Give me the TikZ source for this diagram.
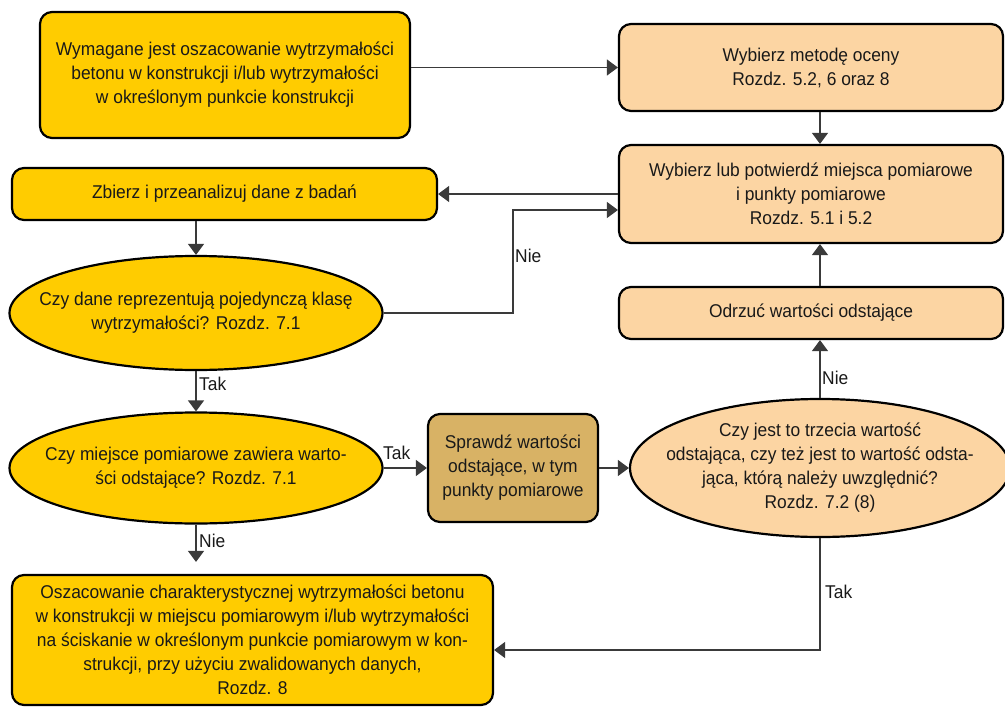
\documentclass[tikz,border=0pt]{standalone}
\usepackage{fontspec}
\setmainfont{Liberation Sans}[FakeStretch=0.94]
\usetikzlibrary{shapes.geometric,arrows.meta}
\definecolor{yel}{HTML}{FFCC00}
\definecolor{peach}{HTML}{FCD5A3}
\definecolor{tanbox}{HTML}{D8B265}
\definecolor{ln}{HTML}{3A3A3A}
\begin{document}
\begin{tikzpicture}[x=1pt,y=-1pt,
  txt/.style={font=\fontsize{18.5}{24}\selectfont,text=black!90},
  box/.style={txt,draw=black,line width=2.2pt,rounded corners=12pt,inner sep=0pt,align=center},
  ell/.style={draw=black,line width=2.2pt,ellipse,inner sep=0pt},
  ctext/.style={label={[txt,align=center]center:#1}},
  arr/.style={draw=ln,line width=1.3pt,-{Triangle[width=16pt,length=11pt]}},
  lab/.style={txt,inner sep=1pt,anchor=west}]
\useasboundingbox (0,0) rectangle (1005,707);
\node[box,fill=yel,minimum width=370,minimum height=126] (a) at (225,75)
  {Wymagane jest oszacowanie wytrzymałości\\betonu w konstrukcji i/lub wytrzymałości\\w określonym punkcie konstrukcji};
\node[box,fill=yel,minimum width=425,minimum height=52] (b) at (224.5,194)
  {Zbierz i przeanalizuj dane z badań};
\node[box,fill=peach,minimum width=384,minimum height=87] (c) at (811,67.5)
  {Wybierz metodę oceny\\Rozdz. 5.2, 6 oraz 8};
\node[box,fill=peach,minimum width=384,minimum height=98] (d) at (811,194)
  {Wybierz lub potwierdź miejsca pomiarowe\\i punkty pomiarowe\\Rozdz. 5.1 i 5.2};
\node[box,fill=peach,minimum width=384,minimum height=52] (e) at (811,313)
  {Odrzuć wartości odstające};
\node[ell,fill=yel,minimum width=373,minimum height=114,
  ctext={Czy dane reprezentują pojedynczą klasę\\wytrzymałości? Rozdz. 7.1}] (f) at (196,313) {};
\node[ell,fill=yel,minimum width=373,minimum height=111,
  ctext={Czy miejsce pomiarowe zawiera warto-\\ści odstające? Rozdz. 7.1}] (g) at (196,468) {};
\node[box,fill=tanbox,minimum width=170,minimum height=108] (h) at (513,468)
  {Sprawdź wartości\\odstające, w tym\\punkty pomiarowe};
\node[ell,fill=peach,minimum width=380,minimum height=138,
  ctext={Czy jest to trzecia wartość\\odstająca, czy też jest to wartość odsta-\\jąca, którą należy uwzględnić?\\Rozdz. 7.2 (8)}] (i) at (820,468) {};
\node[box,fill=yel,minimum width=481,minimum height=130] (j) at (252.5,640)
  {Oszacowanie charakterystycznej wytrzymałości betonu\\w konstrukcji w miejscu pomiarowym i/lub wytrzymałości\\na ściskanie w określonym punkcie pomiarowym w kon-\\strukcji, przy użyciu zwalidowanych danych,\\Rozdz. 8};
\coordinate (nb) at (513,210);
\coordinate (tj) at (820,650);
\draw[arr] (a.east |- c.west) -- (c.west);
\draw[arr] (c.south -| i.north) -- (d.north -| i.north);
\draw[arr] (d.west) -- (b.east);
\draw[arr] (b.south -| f.north) -- (f.north);
\draw[arr] (f.east) -| (nb) -- (nb -| d.west);
\draw[arr] (f.south) -- (g.north);
\draw[arr,shorten >=12pt] (g.south) -- (j.north -| g.south);
\draw[arr] (g.east) -- (h.west);
\draw[arr] (h.east) -- (i.west);
\draw[arr] (i.north) -- (e.south -| i.north);
\draw[arr] (e.north -| i.north) -- (d.south -| i.north);
\draw[arr] (i.south) -- (tj) -- (tj -| j.east);
\node[lab] (l1) at (514,256) {Nie};
\node[lab] (l2) at (198,384) {Tak};
\node[lab] (l3) at (382,453) {Tak};
\node[lab] (l4) at (198,541) {Nie};
\node[lab] (l5) at (821,378) {Nie};
\node[lab] (l6) at (824,592) {Tak};
\end{tikzpicture}
\end{document}
